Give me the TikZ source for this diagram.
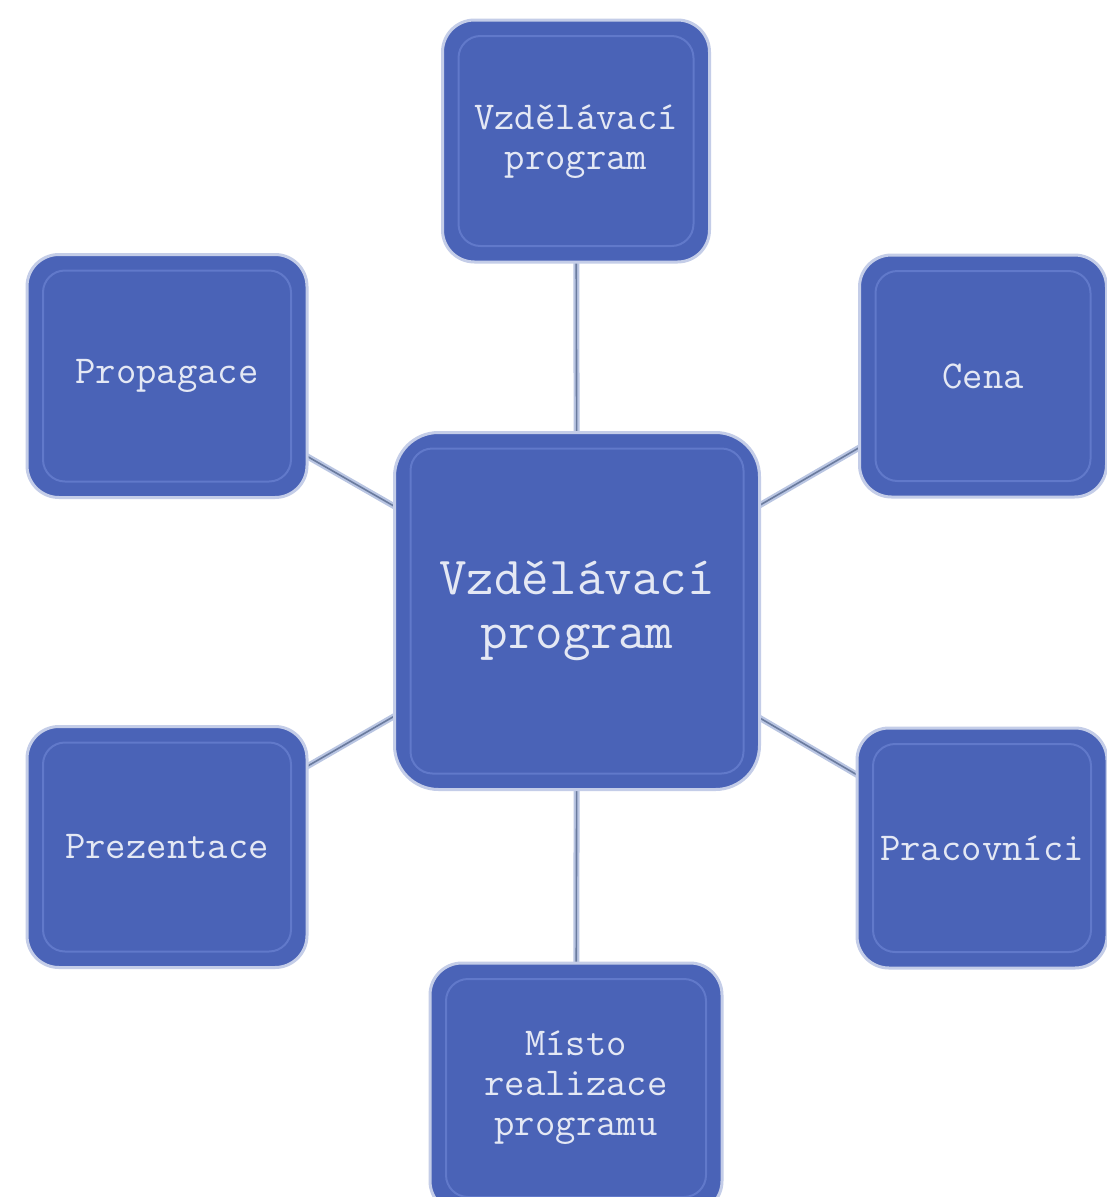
\documentclass[tikz,border=0pt]{standalone}
\usepackage{fontspec}
\usetikzlibrary{backgrounds}
\definecolor{boxfill}{HTML}{4A63B7}
\definecolor{rim}{HTML}{C4CDE8}
\definecolor{bevelc}{HTML}{6179CA}
\definecolor{txt}{HTML}{E4E8F4}
\definecolor{connhalo}{HTML}{B9C5E2}
\definecolor{conncore}{HTML}{6A7B9E}
\tikzset{
  box/.style={draw=rim, line width=3pt, fill=boxfill, rounded corners=32pt,
    text=txt, align=center, inner sep=0pt,
    font=\ttfamily\fontsize{39.5}{40}\selectfont,
    path picture={\draw[bevelc, line width=2pt, rounded corners=22pt]
      ([shift={(16pt,-16pt)}]path picture bounding box.north west) rectangle
      ([shift={(-16pt,16pt)}]path picture bounding box.south east);}},
  bigbox/.style={box, rounded corners=44pt, font=\ttfamily\fontsize{53.5}{54}\selectfont},
  connhalo/.style={draw=connhalo, line width=6pt},
  conncore/.style={draw=conncore, line width=1.6pt}
}
\begin{document}
\begin{tikzpicture}[x=1pt,y=-1pt]
\useasboundingbox (0,0) rectangle (1107,1197);
\clip (0,0) rectangle (1107,1197);
\node[bigbox, minimum width=365pt, minimum height=357pt] (c) at (577,611) {Vzdělávací\\program};
\node[box, minimum width=267pt, minimum height=242pt] (t) at (576,141) {Vzdělávací\\program};
\node[box, minimum width=280pt, minimum height=243pt] (p) at (167,376) {Propagace};
\node[box, minimum width=247pt, minimum height=242pt] (ce) at (983,376) {Cena};
\node[box, minimum width=280pt, minimum height=241pt] (pr) at (167,847) {Prezentace};
\node[box, minimum width=250pt, minimum height=240pt] (w) at (982,848) {Pracovníci};
\node[box, minimum width=292pt, minimum height=250pt] (b) at (576,1088) {Místo\\realizace\\programu};
\begin{scope}[on background layer]
\fill[white] (0,0) rectangle (1107,1197);
\foreach \n in {t,p,ce,pr,w,b}{
  \path[connhalo] (c.center) -- (\n.center);
  \path[conncore] (c.center) -- (\n.center);
}
\end{scope}
\end{tikzpicture}
\end{document}
